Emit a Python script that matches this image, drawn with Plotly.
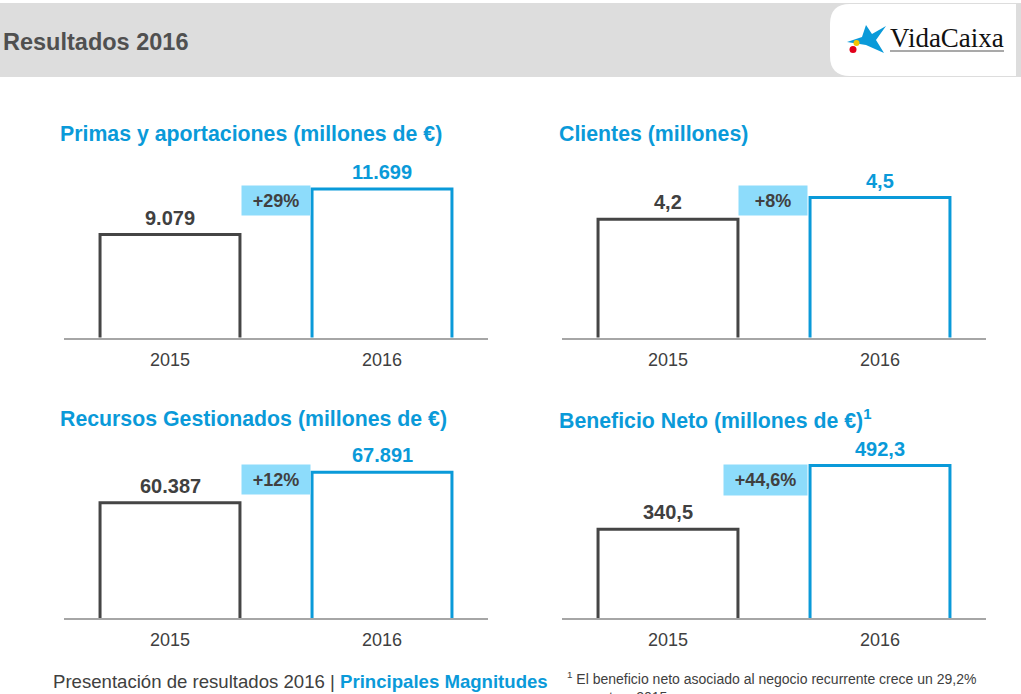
import plotly.graph_objects as go

W, H = 1021, 694

# ---------------- data ----------------
years = ["2015", "2016"]

primas = [9079, 11699]
primas_labels = ["9.079", "11.699"]
primas_growth = "+29%"

clientes = [4.2, 4.5]
clientes_labels = ["4,2", "4,5"]
clientes_growth = "+8%"

recursos = [60387, 67891]
recursos_labels = ["60.387", "67.891"]
recursos_growth = "+12%"

beneficio = [340.5, 492.3]
beneficio_labels = ["340,5", "492,3"]
beneficio_growth = "+44,6%"

titles = [
    "Primas y aportaciones (millones de €)",
    "Clientes (millones)",
    "Recursos Gestionados (millones de €)",
    "Beneficio Neto (millones de €)<sup>1</sup>",
]

# ---------------- style ----------------
BLUE = "#0a9ad9"
DARK = "#454545"
TXT = "#404040"
BOXBG = "#8ddcfb"
FONT = "Liberation Sans, Arial, sans-serif"


def X(px):
    return px / W


def Y(py):
    return 1 - py / H


fig = go.Figure()

panels = [
    # values, labels, growth, xdomain px, ydomain px (bottom, top), y range, box (x0,x1,y0,y1), title pos
    (primas, primas_labels, primas_growth, (64, 488), (337.5, 150), (3148, 13950), (241, 309, 185, 214), (58, 134)),
    (clientes, clientes_labels, clientes_growth, (562, 986), (337.5, 150), (2.564, 5.157), (738, 806, 185, 214), (557, 134)),
    (recursos, recursos_labels, recursos_growth, (64, 488), (618, 430), (32140, 78240), (241, 309, 464, 493), (58, 419)),
    (beneficio, beneficio_labels, beneficio_growth, (562, 986), (618, 430), (128.9, 576.9), (723, 806, 464, 494), (557, 419)),
]

annotations = []
layout_axes = {}
for i, (vals, labs, growth, xd, yd, yr, box, tpos) in enumerate(panels):
    n = "" if i == 0 else str(i + 1)
    xa, ya = "x" + n, "y" + n
    fig.add_trace(go.Bar(
        x=years, y=vals, xaxis=xa, yaxis=ya,
        width=0.66,
        marker=dict(color="white", line=dict(color=[DARK, BLUE], width=3)),
        hoverinfo="skip", showlegend=False,
    ))
    layout_axes["xaxis" + n] = dict(
        domain=[X(xd[0]), X(xd[1])], anchor=ya, type="category",
        range=[-0.5, 1.5], showline=True, linecolor="#a6a6a6", linewidth=1.5,
        showgrid=False, zeroline=False, ticks="", fixedrange=True,
        tickfont=dict(family=FONT, size=18, color=TXT), ticklabelstandoff=5,
    )
    layout_axes["yaxis" + n] = dict(
        domain=[Y(yd[0]), Y(yd[1])], anchor=xa, range=list(yr),
        visible=False, showgrid=False, zeroline=False, fixedrange=True,
    )
    for j in range(2):
        annotations.append(dict(
            x=j, y=vals[j], xref=xa, yref=ya, text="<b>%s</b>" % labs[j],
            showarrow=False, yanchor="middle", xanchor="center", yshift=17,
            font=dict(family=FONT, size=20, color=TXT if j == 0 else BLUE),
        ))
    annotations.append(dict(
        x=X(box[0]), y=Y(box[2]), xref="paper", yref="paper", xanchor="left", yanchor="top",
        width=box[1] - box[0], height=box[3] - box[2], borderpad=0, bgcolor=BOXBG,
        text="<b>%s</b>" % growth, showarrow=False, align="center", valign="middle",
        font=dict(family=FONT, size=18, color=TXT),
    ))
    annotations.append(dict(
        x=X(tpos[0]), y=Y(tpos[1]), xref="paper", yref="paper", xanchor="left", yanchor="middle",
        text="<b>%s</b>" % titles[i], showarrow=False,
        font=dict(family=FONT, size=21.3, color=BLUE),
    ))

# header text
annotations.append(dict(
    x=X(1), y=Y(42), xref="paper", yref="paper", xanchor="left", yanchor="middle",
    text="<b>Resultados 2016</b>", showarrow=False,
    font=dict(family=FONT, size=23.5, color="#505050"),
))
# logo text
annotations.append(dict(
    x=X(888), y=Y(38), xref="paper", yref="paper", xanchor="left", yanchor="middle",
    text="VidaCaixa", showarrow=False,
    font=dict(family="Liberation Serif, Times New Roman, serif", size=27, color="#111111"),
))
# footer
annotations.append(dict(
    x=X(51), y=Y(681), xref="paper", yref="paper", xanchor="left", yanchor="middle",
    text="Presentación de resultados 2016 | <b><span style='color:%s'>Principales Magnitudes</span></b>" % BLUE,
    showarrow=False, font=dict(family=FONT, size=18.6, color=TXT),
))
annotations.append(dict(
    x=X(565), y=Y(667), xref="paper", yref="paper", xanchor="left", yanchor="top",
    text="<sup>1</sup> El beneficio neto asociado al negocio recurrente crece un 29,2%<br>respecto a 2015",
    showarrow=False, align="left", font=dict(family=FONT, size=14, color=TXT),
))


def P(pts):
    s = ""
    for cmd, coords in pts:
        s += cmd
        s += " ".join("%.5f,%.5f" % (X(a), Y(b)) for a, b in coords) + " "
    return s + "Z"


shapes = [
    # header band
    dict(type="rect", xref="paper", yref="paper", x0=0, x1=1, y0=Y(77), y1=Y(3),
         fillcolor="#dddddd", line=dict(width=0), layer="below"),
    # logo white rounded box
    dict(type="path", xref="paper", yref="paper", layer="below",
         path=P([("M", [(850, 4)]), ("L", [(1016, 4)]), ("L", [(1016, 76)]), ("L", [(850, 76)]),
                 ("Q", [(830, 76), (830, 56)]), ("L", [(830, 24)]), ("Q", [(830, 4), (850, 4)])]),
         fillcolor="white", line=dict(width=0)),
    # star
    dict(type="path", xref="paper", yref="paper",
         path=P([("M", [(866, 25)]), ("L", [(872, 34)]), ("L", [(886, 26)]), ("L", [(876, 40)]),
                 ("L", [(884, 53)]), ("L", [(866, 45)]), ("L", [(847, 42)]), ("L", [(862, 37)])]),
         fillcolor="#0a9ad9", line=dict(width=0)),
    dict(type="circle", xref="paper", yref="paper", x0=X(853.5), x1=X(859.5), y0=Y(46), y1=Y(40),
         fillcolor="#f5c400", line=dict(width=0)),
    dict(type="circle", xref="paper", yref="paper", x0=X(849.5), x1=X(856.5), y0=Y(53), y1=Y(46),
         fillcolor="#e2001a", line=dict(width=0)),
    # logo underline
    dict(type="line", xref="paper", yref="paper", x0=X(890), x1=X(1004), y0=Y(51), y1=Y(51),
         line=dict(color="#8c8c8c", width=1.5)),
]

fig.update_layout(
    width=W, height=H, margin=dict(l=0, r=0, t=0, b=0),
    paper_bgcolor="white", plot_bgcolor="white",
    annotations=annotations, shapes=shapes,
    **layout_axes,
)

fig.write_html(
    "out.html",
    config={"displayModeBar": False},
    post_script="document.body.style.margin='0';document.body.style.padding='0';"
                "document.body.style.overflow='hidden';",
)
